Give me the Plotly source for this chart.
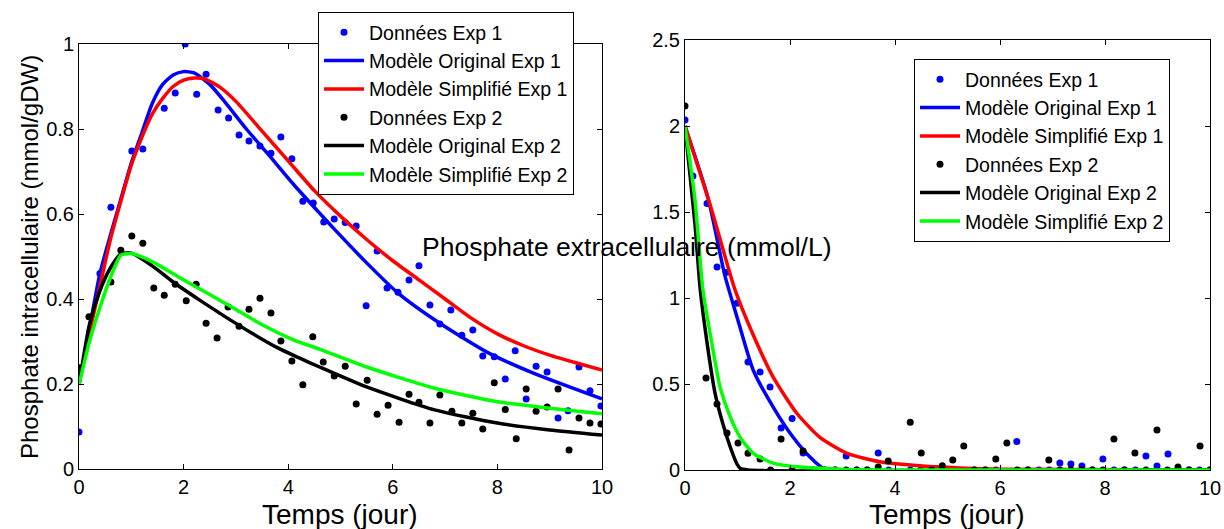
import plotly.graph_objects as go

FONT = "Liberation Sans, Arial, sans-serif"
BLUE, RED, BLACK, GREEN = "#0000FF", "#FF0000", "#000000", "#00FF00"

# ---------------- Left panel: intracellular phosphate ----------------
L_d1_x = [0, 0.2, 0.4, 0.61, 1.01, 1.22, 1.63, 1.84, 2.03, 2.25, 2.43, 2.66, 2.86, 3.06, 3.25,
          3.46, 3.67, 3.86, 4.07, 4.28, 4.48, 4.68, 4.88, 5.09, 5.30, 5.49, 5.70, 5.89, 6.10,
          6.31, 6.50, 6.71, 6.90, 7.11, 7.32, 7.53, 7.72, 7.94, 8.15, 8.34, 8.55, 8.74, 8.95,
          9.16, 9.35, 9.56, 9.77, 9.98]
L_d1_y = [0.087, 0.32, 0.46, 0.616, 0.748, 0.753, 0.849, 0.885, 1.0, 0.882, 0.929, 0.845, 0.826,
          0.786, 0.772, 0.76, 0.743, 0.781, 0.73, 0.63, 0.626, 0.581, 0.588, 0.58, 0.572, 0.384,
          0.513, 0.426, 0.416, 0.445, 0.478, 0.386, 0.341, 0.374, 0.315, 0.327, 0.266, 0.264,
          0.212, 0.278, 0.165, 0.242, 0.228, 0.12, 0.137, 0.24, 0.184, 0.148]

L_d2_x = [0, 0.19, 0.61, 0.80, 1.01, 1.22, 1.43, 1.63, 1.84, 2.05, 2.24, 2.43, 2.64, 2.85, 3.06,
          3.25, 3.46, 3.67, 3.86, 4.07, 4.28, 4.47, 4.67, 4.88, 5.09, 5.30, 5.51, 5.70, 5.91,
          6.12, 6.31, 6.50, 6.71, 6.90, 7.13, 7.32, 7.53, 7.72, 7.94, 8.15, 8.36, 8.55, 8.74,
          8.95, 9.16, 9.37, 9.56, 9.77, 9.98]
L_d2_y = [0.238, 0.358, 0.44, 0.515, 0.548, 0.531, 0.426, 0.409, 0.435, 0.396, 0.435, 0.343,
          0.308, 0.381, 0.336, 0.376, 0.402, 0.367, 0.301, 0.254, 0.198, 0.311, 0.252, 0.219,
          0.242, 0.153, 0.209, 0.129, 0.15, 0.11, 0.176, 0.157, 0.108, 0.174, 0.136, 0.108,
          0.131, 0.094, 0.203, 0.14, 0.071, 0.188, 0.136, 0.146, 0.188, 0.045, 0.12, 0.108, 0.106]

L_orig1_x = [0, 0.2, 0.4, 0.6, 0.8, 1.0, 1.2, 1.4, 1.6, 1.8, 2.0, 2.2, 2.5, 2.8, 3.2, 3.6, 4.1,
             4.6, 4.9, 5.5, 6.1, 6.9, 7.8, 8.7, 10]
L_orig1_y = [0.2, 0.33, 0.46, 0.55, 0.635, 0.72, 0.79, 0.86, 0.905, 0.927, 0.935, 0.932, 0.905,
             0.862, 0.80, 0.743, 0.67, 0.602, 0.562, 0.485, 0.414, 0.343, 0.275, 0.225, 0.165]

L_simp1_x = [0, 0.2, 0.4, 0.6, 0.8, 1.0, 1.2, 1.4, 1.6, 1.8, 2.0, 2.2, 2.4, 2.7, 3.0, 3.5, 4.0,
             4.5, 5.0, 5.5, 6.0, 6.5, 7.0, 7.5, 8.0, 8.5, 9.0, 9.5, 10]
L_simp1_y = [0.2, 0.32, 0.43, 0.54, 0.63, 0.715, 0.78, 0.835, 0.872, 0.90, 0.915, 0.92, 0.918,
             0.898, 0.865, 0.795, 0.725, 0.655, 0.595, 0.54, 0.49, 0.445, 0.40, 0.355, 0.318,
             0.29, 0.268, 0.25, 0.233]

L_orig2_x = [0, 0.2, 0.4, 0.6, 0.8, 1.0, 1.4, 1.8, 2.3, 2.8, 3.3, 3.8, 4.2, 4.6, 5.5, 6.8, 8.0,
             9.0, 10]
L_orig2_y = [0.198, 0.34, 0.42, 0.473, 0.506, 0.508, 0.478, 0.440, 0.398, 0.358, 0.32, 0.285,
             0.262, 0.240, 0.193, 0.139, 0.108, 0.092, 0.08]

L_simp2_x = [0, 0.2, 0.4, 0.6, 0.8, 1.0, 1.4, 1.9, 2.45, 2.95, 3.45, 4.1, 4.6, 5.5, 6.8, 8.0,
             9.0, 10]
L_simp2_y = [0.198, 0.30, 0.38, 0.45, 0.503, 0.507, 0.488, 0.452, 0.414, 0.379, 0.343, 0.304,
             0.282, 0.24, 0.19, 0.158, 0.143, 0.13]

# ---------------- Right panel: extracellular phosphate ----------------
R_d1_x = [0, 0.15, 0.42, 0.61, 0.80, 0.99, 1.20, 1.43, 1.62, 1.83, 2.04, 2.25, 2.45, 2.66, 2.86,
          3.07, 3.27, 3.47, 3.68, 3.88, 4.29, 4.49, 4.9, 5.1, 5.51, 5.72, 5.92, 6.32, 6.53, 6.74,
          6.94, 7.14, 7.35, 7.56, 7.76, 7.96, 8.17, 8.37, 8.58, 8.78, 8.99, 9.2, 9.4, 9.6, 9.8, 10]
R_d1_y = [2.035, 1.71, 1.55, 1.18, 1.15, 0.97, 0.628, 0.57, 0.482, 0.244, 0.30, 0.099, 0, 0, 0,
          0.081, 0, 0, 0.099, 0, 0, 0, 0, 0, 0, 0, 0, 0.165, 0, 0, 0, 0.04, 0.035, 0.023, 0,
          0.064, 0, 0, 0, 0.081, 0.023, 0.093, 0, 0, 0, 0]

R_d2_x = [0, 0.40, 0.61, 0.80, 1.01, 1.20, 1.43, 1.63, 1.83, 2.04, 2.25, 2.45, 2.66, 2.86, 3.07,
          3.27, 3.47, 3.68, 3.87, 4.29, 4.50, 4.70, 4.9, 5.1, 5.31, 5.51, 5.72, 5.92, 6.13, 6.33,
          6.53, 6.93, 7.14, 7.35, 7.56, 7.76, 7.96, 8.17, 8.37, 8.57, 8.78, 8.99, 9.19, 9.39,
          9.6, 9.81, 10]
R_d2_y = [2.116, 0.535, 0.384, 0.215, 0.157, 0.097, 0.064, 0, 0.18, 0, 0.11, 0, 0, 0, 0, 0, 0,
          0.017, 0.052, 0.278, 0.099, 0, 0.024, 0.058, 0.14, 0, 0, 0.064, 0.157, 0, 0, 0.058, 0,
          0, 0, 0, 0, 0.18, 0, 0.099, 0, 0.233, 0, 0.017, 0, 0.14, 0]

R_orig1_x = [0, 0.44, 0.76, 0.99, 1.3, 1.68, 2.06, 2.38, 2.63, 3.0, 10]
R_orig1_y = [2.0, 1.58, 1.13, 0.89, 0.58, 0.366, 0.19, 0.075, 0.01, 0, 0]

R_simp1_x = [0, 0.5, 0.95, 1.3, 1.68, 2.13, 2.57, 3.09, 3.71, 4.86, 6.0, 10]
R_simp1_y = [2.0, 1.52, 1.05, 0.785, 0.54, 0.33, 0.19, 0.097, 0.048, 0.017, 0.005, 0]

R_orig2_x = [0, 0.19, 0.29, 0.42, 0.57, 0.72, 0.86, 0.99, 1.05, 1.2, 10]
R_orig2_y = [2.0, 1.43, 1.05, 0.74, 0.45, 0.27, 0.135, 0.035, 0.01, 0, 0]

R_simp2_x = [0, 0.19, 0.34, 0.51, 0.67, 0.86, 1.05, 1.3, 1.68, 2.19, 2.95, 4.0, 10]
R_simp2_y = [2.0, 1.57, 1.05, 0.74, 0.48, 0.31, 0.19, 0.097, 0.04, 0.017, 0.005, 0, 0]

NAMES = ["Données Exp 1", "Modèle Original Exp 1", "Modèle Simplifié Exp 1",
         "Données Exp 2", "Modèle Original Exp 2", "Modèle Simplifié Exp 2"]

X_TICKS = [0, 2, 4, 6, 8, 10]
L_Y_TICKS = [0, 0.2, 0.4, 0.6, 0.8, 1]
L_Y_LABELS = ["0", "0.2", "0.4", "0.6", "0.8", "1"]
R_Y_TICKS = [0, 0.5, 1, 1.5, 2, 2.5]
R_Y_LABELS = ["0", "0.5", "1", "1.5", "2", "2.5"]

fig = go.Figure()


def panel(xa, ya, leg, d1, o1, s1, d2, o2, s2):
    series = [
        (d1, BLUE, "markers"), (o1, BLUE, "lines"), (s1, RED, "lines"),
        (d2, BLACK, "markers"), (o2, BLACK, "lines"), (s2, GREEN, "lines"),
    ]
    for name, ((xs, ys), col, mode) in zip(NAMES, series):
        kw = dict(x=xs, y=ys, name=name, mode=mode, xaxis=xa, yaxis=ya, legend=leg)
        if mode == "markers":
            kw["marker"] = dict(color=col, size=7)
        else:
            kw["line"] = dict(color=col, width=3.5, shape="spline", smoothing=0.6)
        fig.add_trace(go.Scatter(**kw))


panel("x", "y", "legend",
      (L_d1_x, L_d1_y), (L_orig1_x, L_orig1_y), (L_simp1_x, L_simp1_y),
      (L_d2_x, L_d2_y), (L_orig2_x, L_orig2_y), (L_simp2_x, L_simp2_y))
panel("x2", "y2", "legend2",
      (R_d1_x, R_d1_y), (R_orig1_x, R_orig1_y), (R_simp1_x, R_simp1_y),
      (R_d2_x, R_d2_y), (R_orig2_x, R_orig2_y), (R_simp2_x, R_simp2_y))

W, H = 1224, 529
axis_common = dict(showline=True, linecolor="black", linewidth=1, mirror="ticks",
                   ticks="inside", ticklen=5, tickcolor="black", showgrid=False,
                   zeroline=False, automargin=False,
                   tickfont=dict(family=FONT, size=20, color="black"))

leg_common = dict(font=dict(family=FONT, size=19.5, color="black"), bgcolor="white",
                  bordercolor="black", borderwidth=1, xanchor="left", yanchor="top",
                  itemwidth=40, tracegroupgap=0)

title_font = dict(family=FONT, size=28, color="black")

fig.update_layout(
    width=W, height=H, margin=dict(l=0, r=0, t=0, b=0, autoexpand=False),
    paper_bgcolor="white", plot_bgcolor="white",
    font=dict(family=FONT, color="black"),
    xaxis=dict(domain=[79 / W, 602 / W], range=[0, 10], tickvals=X_TICKS,
               ticktext=[str(v) for v in X_TICKS], anchor="y", **axis_common),
    yaxis=dict(domain=[(H - 469) / H, (H - 44) / H], range=[0, 1], tickvals=L_Y_TICKS,
               ticktext=L_Y_LABELS, anchor="x", **axis_common),
    xaxis2=dict(domain=[685 / W, 1210 / W], range=[0, 10], tickvals=X_TICKS,
                ticktext=[str(v) for v in X_TICKS], anchor="y2", **axis_common),
    yaxis2=dict(domain=[(H - 470) / H, (H - 40) / H], range=[0, 2.5], tickvals=R_Y_TICKS,
                ticktext=R_Y_LABELS, anchor="x2", **axis_common),
    legend=dict(x=318 / W, y=(H - 12) / H, **leg_common),
    legend2=dict(x=914 / W, y=(H - 59) / H, **leg_common),
    annotations=[
        dict(text="Temps (jour)", x=340 / W, y=(H - 514) / H, xref="paper", yref="paper",
             xanchor="center", yanchor="middle", showarrow=False, font=title_font),
        dict(text="Temps (jour)", x=947 / W, y=(H - 514) / H, xref="paper", yref="paper",
             xanchor="center", yanchor="middle", showarrow=False, font=title_font),
        dict(text="Phosphate intracellulaire (mmol/gDW)", x=29 / W, y=(H - 257) / H,
             xref="paper", yref="paper", xanchor="center", yanchor="middle",
             showarrow=False, textangle=-90,
             font=dict(family=FONT, size=24, color="black")),
        dict(text="Phosphate extracellulaire (mmol/L)", x=626 / W, y=(H - 247) / H,
             xref="paper", yref="paper", xanchor="center", yanchor="middle",
             showarrow=False, font=dict(family=FONT, size=26.5, color="black")),
    ],
)

fig.write_html("out.html")
